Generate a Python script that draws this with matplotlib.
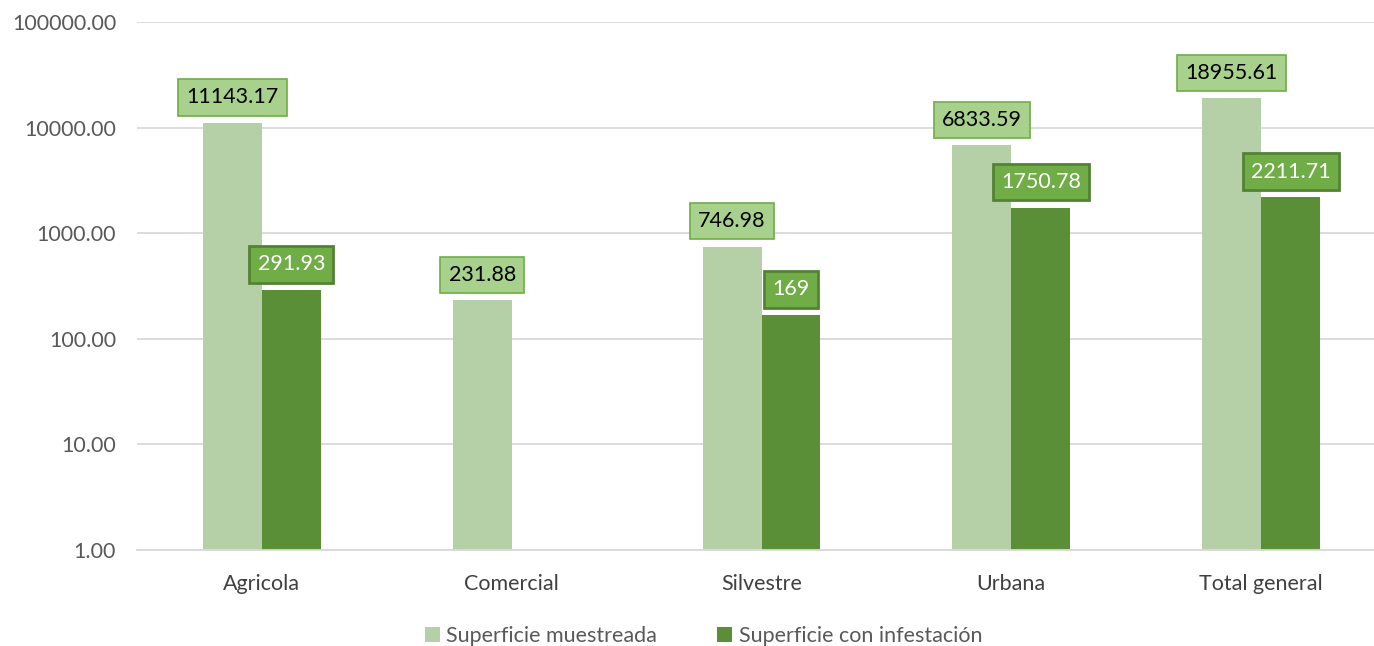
import numpy as np
import matplotlib.pyplot as plt
from matplotlib.ticker import FixedLocator, NullLocator

# Datos
categorias = ['Agricola', 'Comercial', 'Silvestre', 'Urbana', 'Total general']
muestreada = [11143.17, 231.88, 746.98, 6833.59, 18955.61]
infestacion = [291.93, np.nan, 169, 1750.78, 2211.71]
etiquetas_muestreada = ['11143.17', '231.88', '746.98', '6833.59', '18955.61']
etiquetas_infestacion = ['291.93', '', '169', '1750.78', '2211.71']
yticks = [1, 10, 100, 1000, 10000, 100000]

plt.rcParams['font.family'] = ['Lato', 'DejaVu Sans']

fig = plt.figure(figsize=(13.74, 6.46), dpi=100)
ax = fig.add_axes([137 / 1374, 1 - 550 / 646, 1249 / 1374, 528 / 646])

x = np.arange(len(categorias))
w = 0.236
claro = '#B5CFA6'
oscuro = '#5A8E37'

ax.bar(x - w / 2, muestreada, width=w, color=claro, label='Superficie muestreada', zorder=2)
ax.bar(x + w / 2, infestacion, width=w, color=oscuro, label='Superficie con infestación', zorder=2)

ax.set_yscale('log')
ax.set_ylim(1, 100000)
ax.set_xlim(-0.5, len(categorias) - 0.5)
ax.yaxis.set_major_locator(FixedLocator(yticks))
ax.yaxis.set_minor_locator(NullLocator())
ax.set_yticklabels([f'{t:.2f}' for t in yticks])
ax.set_xticks(x)
ax.set_xticklabels(categorias)
ax.tick_params(axis='y', length=0, pad=15, labelsize=15.5, labelcolor='#595959')
ax.tick_params(axis='x', length=0, pad=17, labelsize=15.5, labelcolor='#404040')
ax.grid(axis='y', color='#D9D9D9', linewidth=1.3, zorder=0)
for s in ['top', 'right', 'left']:
    ax.spines[s].set_visible(False)
ax.spines['bottom'].set_color('#D9D9D9')
ax.spines['bottom'].set_linewidth(1.3)

# Etiquetas de datos
for i in range(len(categorias)):
    ax.annotate(etiquetas_muestreada[i], (x[i] - w / 2, muestreada[i]),
                xytext=(0, 11), textcoords='offset points', ha='center', va='bottom',
                fontsize=15.5, color='black', zorder=5,
                bbox=dict(boxstyle='square,pad=0.38', fc='#A9D18E', ec='#70AD47', lw=1.2))
    if not np.isnan(infestacion[i]):
        ax.annotate(etiquetas_infestacion[i], (x[i] + w / 2, infestacion[i]),
                    xytext=(0, 11), textcoords='offset points', ha='center', va='bottom',
                    fontsize=15.5, color='white', zorder=5,
                    bbox=dict(boxstyle='square,pad=0.38', fc='#70AD47', ec='#548235', lw=2))

fig.legend(loc='lower center', bbox_to_anchor=(0.512, -0.03), ncol=2, frameon=False,
           fontsize=15.5, handlelength=0.7, handleheight=0.7, handletextpad=0.3,
           columnspacing=2.8, labelcolor='#595959')

fig.savefig('out.png', dpi=100)
